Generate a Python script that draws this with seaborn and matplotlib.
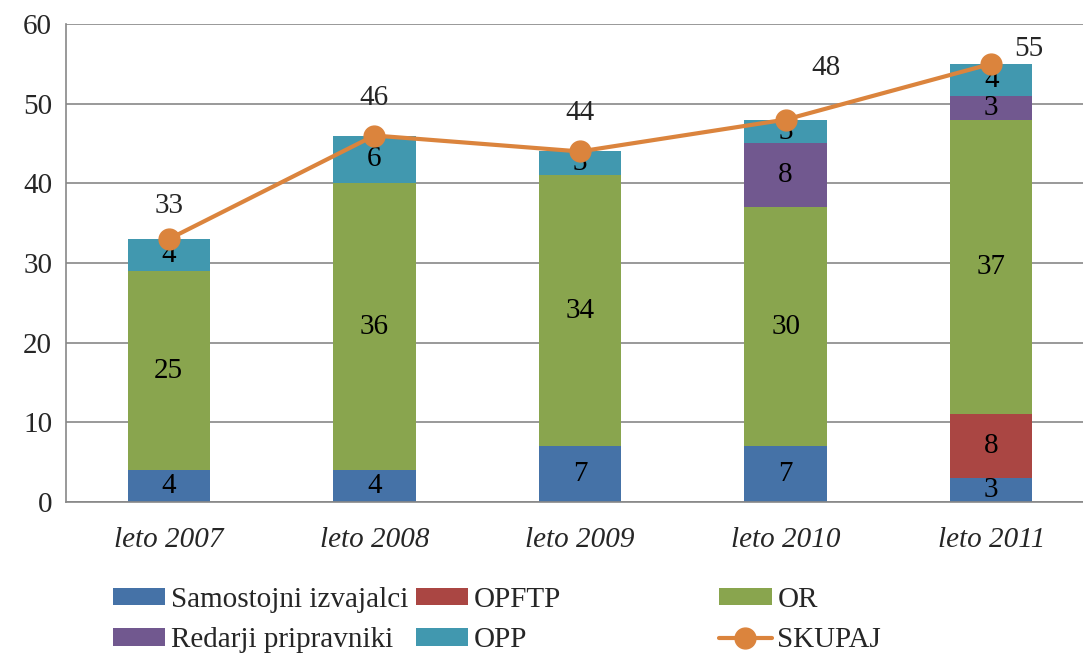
import numpy as np
import matplotlib
matplotlib.use("Agg")
import matplotlib.pyplot as plt
import seaborn as sns

years = ["leto 2007", "leto 2008", "leto 2009", "leto 2010", "leto 2011"]
samostojni = [4, 4, 7, 7, 3]
opftp = [0, 0, 0, 0, 8]
or_vals = [25, 36, 34, 30, 37]
redarji = [0, 0, 0, 8, 3]
opp = [4, 6, 3, 3, 4]
skupaj = [33, 46, 44, 48, 55]

series = [
    ("Samostojni izvajalci", samostojni, "#4572A7"),
    ("OPFTP", opftp, "#AA4643"),
    ("OR", or_vals, "#89A54E"),
    ("Redarji pripravniki", redarji, "#71588F"),
    ("OPP", opp, "#4198AF"),
]
line_color = "#DB843D"
fs = 21

sns.set_style("white")
plt.rcParams["font.family"] = ["Liberation Serif", "DejaVu Serif"]

fig = plt.figure(figsize=(10.83, 6.57), dpi=100)
ax = fig.add_axes([0.0609, 0.2359, 0.9493, 0.7276])
ax.set_axisbelow(True)
ax.yaxis.grid(True, color="#878787", linewidth=1.2)

bottom = np.zeros(len(years))
handles = {}
for name, vals, col in series:
    vals = np.array(vals, dtype=float)
    sns.barplot(x=years, y=vals, bottom=bottom, color=col, saturation=1,
                width=0.4, ax=ax, label=name, linewidth=0)
    handles[name] = ax.patches[-1]
    for i, v in enumerate(vals):
        if v > 0:
            ax.text(i, bottom[i] + v / 2, f"{int(v)}", ha="center", va="center",
                    fontsize=fs, color="black")
    bottom += vals

ax.plot(range(len(years)), skupaj, color=line_color, linewidth=3,
        marker="o", markersize=15, label="SKUPAJ", zorder=5)
line_handle = ax.lines[-1]

offsets = [(0, 24), (0, 27), (0, 28), (29, 37), (27, 11)]
for i, (v, off) in enumerate(zip(skupaj, offsets)):
    ax.annotate(f"{v}", (i, v), xytext=off, textcoords="offset points",
                ha="center", va="center", fontsize=fs)

ax.set_ylim(0, 60)
ax.set_yticks(range(0, 61, 10))
ax.set_xlim(-0.5, 4.5)
ax.set_xticks(range(len(years)))
ax.set_xticklabels(years, fontstyle="italic")
ax.set_xticks(np.arange(-0.5, 5, 1), minor=True)
ax.tick_params(axis="x", which="major", length=0, pad=18, labelsize=fs)
ax.tick_params(axis="x", which="minor", length=6, color="#878787", width=1.2)
ax.tick_params(axis="y", length=6, color="#878787", width=1.2, labelsize=fs, pad=4)
ax.set_xlabel("")
ax.set_ylabel("")
for s in ["top", "right"]:
    ax.spines[s].set_visible(False)
for s in ["left", "bottom"]:
    ax.spines[s].set_color("#878787")
    ax.spines[s].set_linewidth(1.2)
if ax.get_legend():
    ax.get_legend().remove()

cols = [
    (["Samostojni izvajalci", "Redarji pripravniki"], 0.1043),
    (["OPFTP", "OPP"], 0.384),
    (["OR", "SKUPAJ"], 0.664),
]
for names, xpos in cols:
    hs = [line_handle if n == "SKUPAJ" else handles[n] for n in names]
    fig.legend(hs, names, loc="upper left", bbox_to_anchor=(xpos, 0.107),
               frameon=False, fontsize=fs, handlelength=1.8, handleheight=0.55,
               handletextpad=0.2, borderpad=0, borderaxespad=0, labelspacing=0.5)

fig.savefig("out.png", dpi=100)
